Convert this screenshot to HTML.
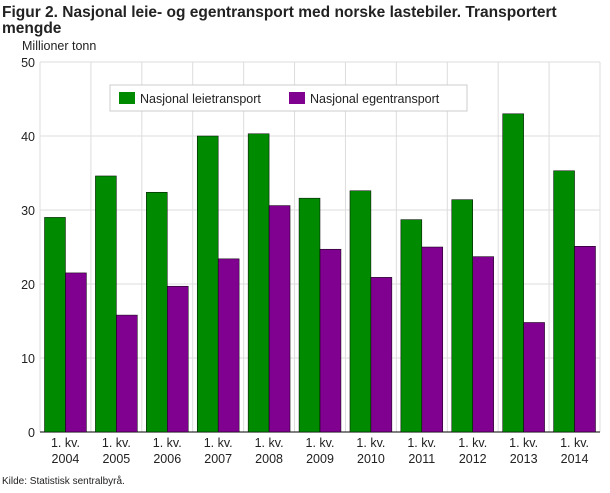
<!DOCTYPE html>
<html><head><meta charset="utf-8"><style>
body{margin:0;background:#fff;width:610px;height:488px;overflow:hidden;font-family:"Liberation Sans","DejaVu Sans",sans-serif}
</style></head><body>
<svg id="c" width="610" height="488" xmlns="http://www.w3.org/2000/svg">
<text x="2" y="17" font-size="15.5" font-weight="bold" fill="#222">Figur 2. Nasjonal leie- og egentransport med norske lastebiler. Transportert</text>
<text x="2" y="33" font-size="15.5" font-weight="bold" fill="#222">mengde</text>
<text x="22" y="50" font-size="12.5" fill="#222">Millioner tonn</text>
<text x="2" y="484" font-size="10" fill="#222">Kilde: Statistisk sentralbyrå.</text>
<g id="plot"></g>
</svg>
<script>
const categories=["2004","2005","2006","2007","2008","2009","2010","2011","2012","2013","2014"];
const leie=[29.0,34.6,32.4,40.0,40.3,31.6,32.6,28.7,31.4,43.0,35.3];
const egen=[21.5,15.8,19.7,23.4,30.6,24.7,20.9,25.0,23.7,14.8,25.1];
const yTicks=[0,10,20,30,40,50];
const NS="http://www.w3.org/2000/svg";
const L=40,R=600,T=62,B=432,yMax=50;
const y=v=>B-(v/yMax)*(B-T);
const cw=(R-L)/categories.length;
const x=i=>L+i*cw;
const g=document.getElementById('plot');
function mk(t,a){const e=document.createElementNS(NS,t);for(const k in a)e.setAttribute(k,a[k]);g.appendChild(e);return e;}
yTicks.forEach(v=>{
 const ln=mk('line',{x1:L,x2:R,y1:y(v),y2:y(v),stroke:v===0?'#000':'#ddd','stroke-width':1});
 
 
 const t=mk('text',{x:L-5,y:y(v)+5,'text-anchor':'end','font-size':12.5,fill:'#222'});
 t.textContent=v;
 
 
});
for(let i=0;i<=categories.length;i++){
 const ln=mk('line',{x1:x(i),x2:x(i),y1:T,y2:B,stroke:'#ddd','stroke-width':1});
 
 
}
mk('line',{x1:L,x2:R,y1:B,y2:B,stroke:'#000'});
const bw=(cw-9)/2;
categories.forEach((c,i)=>{
 const x0=x(i)+4.5;
 const a=mk('rect',{x:x0,y:y(leie[i]),width:bw,height:B-y(leie[i]),fill:'#008a00',stroke:'#000','stroke-width':0.5});
 
 
 const b=mk('rect',{x:x0+bw,y:y(egen[i]),width:bw,height:B-y(egen[i]),fill:'#800090',stroke:'#000','stroke-width':0.5});
 
 
 const cx=x(i)+cw/2;
 const t1=mk('text',{x:cx,y:447,'text-anchor':'middle','font-size':12.5,fill:'#222'});t1.textContent='1. kv.';
 
 
 const t2=mk('text',{x:cx,y:463,'text-anchor':'middle','font-size':12.5,fill:'#222'});t2.textContent=c;
 
 
});
const lg=mk('rect',{x:110,y:85,width:357,height:26,fill:'#fff',stroke:'#ccc'});


[[119,'#008a00','Nasjonal leietransport'],[289,'#800090','Nasjonal egentransport']].forEach(([lx,col,lab])=>{
 const r=mk('rect',{x:lx,y:92,width:16,height:12,fill:col});
 
 
 const t=mk('text',{x:lx+21,y:103,'font-size':12.5,fill:'#222'});t.textContent=lab;
 
 
});
</script>
</body></html>
